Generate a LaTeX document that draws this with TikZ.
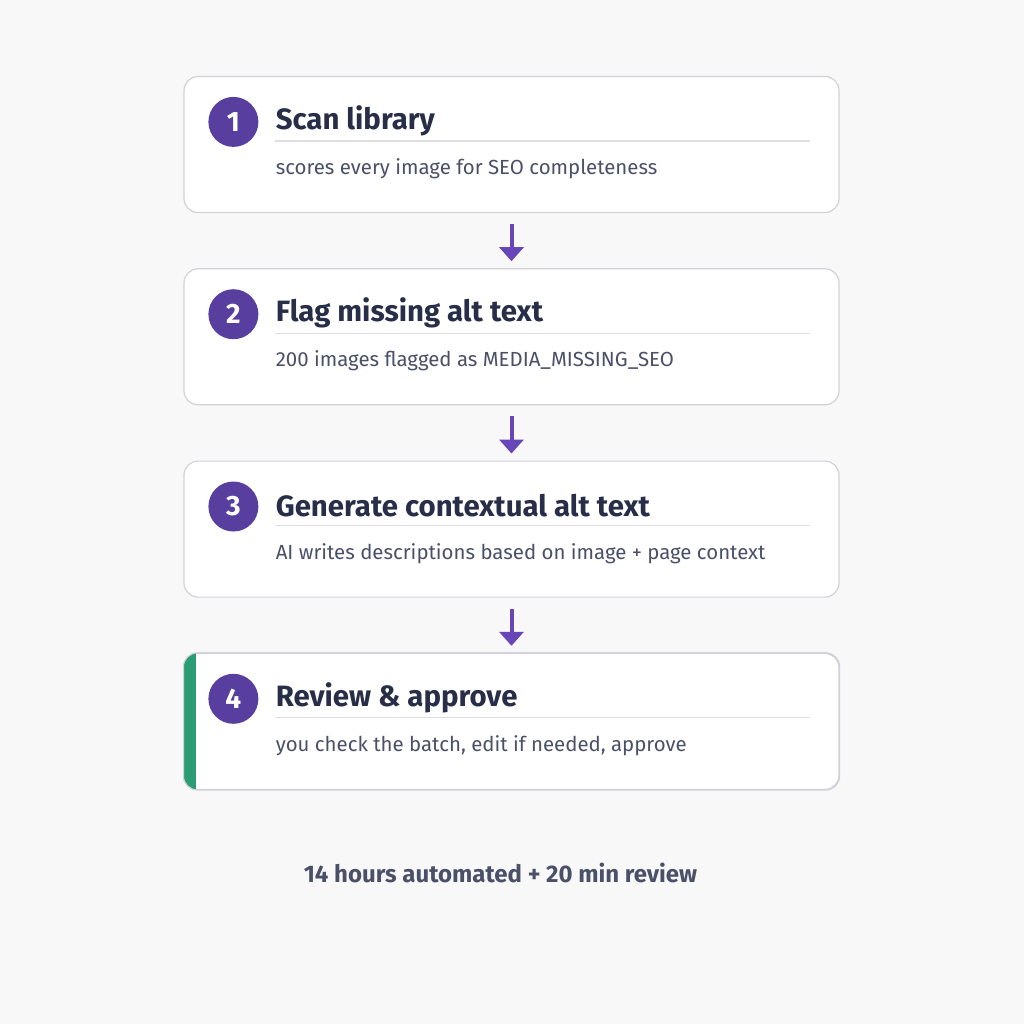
\documentclass[tikz,border=0pt]{standalone}
\usepackage{fontspec}
\setmainfont{Fira Sans}
\usetikzlibrary{positioning, calc, arrows.meta}
\definecolor{bgcol}{RGB}{248,248,249}
\definecolor{edgecol}{RGB}{208,210,216}
\definecolor{rulecol}{RGB}{222,223,228}
\definecolor{numcol}{RGB}{88,62,158}
\definecolor{titlecol}{RGB}{40,45,72}
\definecolor{textcol}{RGB}{74,80,104}
\definecolor{arrowcol}{RGB}{104,70,184}
\definecolor{donecol}{RGB}{42,157,116}
\tikzset{
  stepbox/.style = {rectangle, rounded corners=7pt, minimum width=327.5pt, minimum height=68pt, draw=edgecol, line width=0.6pt, fill=white},
  num/.style = {circle, fill=numcol, minimum size=25pt, inner sep=0pt, text=white, font=\fontsize{14}{14}\selectfont\bfseries},
  title/.style = {anchor=west, inner sep=0pt, text=titlecol, font=\fontsize{14.7}{15}\selectfont\bfseries},
  sub/.style = {anchor=west, inner sep=0pt, text=textcol, font=\fontsize{10.2}{12}\selectfont},
  arrow/.style = {-{Triangle[width=12pt,length=7pt]}, line width=2pt, draw=arrowcol, shorten <=5.5pt, shorten >=3.5pt}
}
\begin{document}
\begin{tikzpicture}[x=0.5pt, y=-0.5pt, node distance=27.55pt]
\fill[bgcol] (0,0) rectangle (1024,1024);
\useasboundingbox (0,0) rectangle (1024,1024);

\node (box1) [stepbox] at (511.5,144.5) {};
\node (box2) [stepbox, below=of box1] {};
\node (box3) [stepbox, below=of box2] {};
\node (box4) [stepbox, below=of box3] {};

% green bar on the last step
\begin{scope}
\clip[rounded corners=7pt] (box4.north west) rectangle (box4.south east);
\fill[donecol] (box4.north west) rectangle ($(box4.south west)+(13,0)$);
\end{scope}
\draw[edgecol, line width=0.6pt, rounded corners=7pt] (box4.north west) rectangle (box4.south east);

\node (n1) [num] at ($(box1.north west)+(50,46)$) {1};
\node (t1) [title] at ($(box1.north west)+(92,45)$) {Scan library};
\draw[rulecol, line width=0.6pt] ($(box1.north west)+(92,65)$) -- ($(box1.north east)+(-30,65)$);
\node (s1) [sub] at ($(box1.north west)+(92,93)$) {scores every image for SEO completeness};

\node (n2) [num] at ($(box2.north west)+(50,46)$) {2};
\node (t2) [title] at ($(box2.north west)+(92,45)$) {Flag missing alt text};
\draw[rulecol, line width=0.6pt] ($(box2.north west)+(92,65)$) -- ($(box2.north east)+(-30,65)$);
\node (s2) [sub] at ($(box2.north west)+(92,93)$) {200 images flagged as MEDIA\_MISSING\_SEO};

\node (n3) [num] at ($(box3.north west)+(50,46)$) {3};
\node (t3) [title] at ($(box3.north west)+(92,45)$) {Generate contextual alt text};
\draw[rulecol, line width=0.6pt] ($(box3.north west)+(92,65)$) -- ($(box3.north east)+(-30,65)$);
\node (s3) [sub] at ($(box3.north west)+(92,93)$) {AI writes descriptions based on image + page context};

\node (n4) [num] at ($(box4.north west)+(50,46)$) {4};
\node (t4) [title] at ($(box4.north west)+(92,45)$) {Review \& approve};
\draw[rulecol, line width=0.6pt] ($(box4.north west)+(92,65)$) -- ($(box4.north east)+(-30,65)$);
\node (s4) [sub] at ($(box4.north west)+(92,93)$) {you check the batch, edit if needed, approve};

\draw [arrow] (box1) -- (box2);
\draw [arrow] (box2) -- (box3);
\draw [arrow] (box3) -- (box4);

\node (total) [text=textcol, font=\fontsize{12}{14}\selectfont\bfseries] at (500.5,873) {14 hours automated + 20 min review};

\end{tikzpicture}
\end{document}
